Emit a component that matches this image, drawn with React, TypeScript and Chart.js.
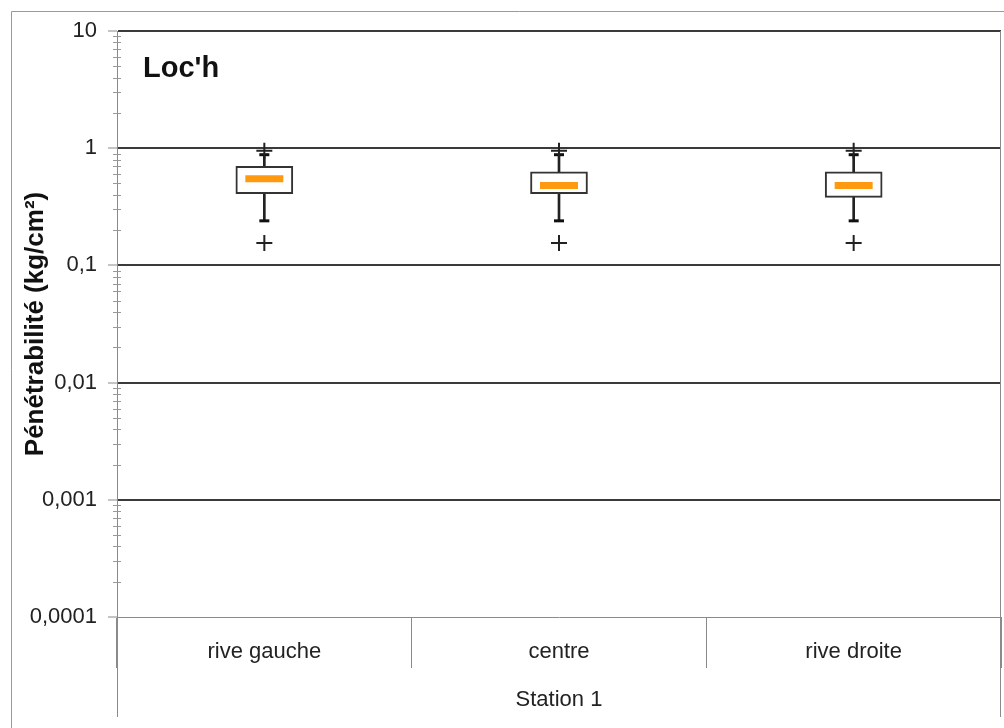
import React, { useEffect, useRef } from 'react';
import { Chart, registerables } from 'chart.js';

Chart.register(...registerables);

const categories = ['rive gauche', 'centre', 'rive droite'];
const q1 = [0.41, 0.41, 0.38];
const q3 = [0.7, 0.63, 0.63];
const medians = [0.55, 0.48, 0.48];
const whiskerLow = [0.24, 0.24, 0.24];
const whiskerHigh = [0.88, 0.88, 0.88];
const outlierHigh = [0.95, 0.95, 0.95];
const outlierLow = [0.155, 0.155, 0.155];
const yTickValues = [10, 1, 0.1, 0.01, 0.001, 0.0001];
const yTickLabels = ['10', '1', '0,1', '0,01', '0,001', '0,0001'];
const chartTitle = "Loc'h";
const yTitle = 'Pénétrabilité (kg/cm²)';
const xTitle = 'Station 1';

const FONT = "'Liberation Sans', Arial, sans-serif";

const majorIndex = (v: number) =>
  yTickValues.findIndex((t) => Math.abs(Math.log10(v) - Math.log10(t)) < 1e-6);

const decor = {
  id: 'decor',
  afterDraw(chart: any) {
    const { ctx, chartArea: a, scales } = chart;
    const y = scales.y;
    ctx.save();
    // outer frame
    ctx.strokeStyle = '#9a9a9a';
    ctx.lineWidth = 1;
    ctx.beginPath();
    ctx.moveTo(11.5, chart.height);
    ctx.lineTo(11.5, 11.5);
    ctx.lineTo(chart.width, 11.5);
    ctx.stroke();
    // right border & long group separators
    ctx.strokeStyle = '#8a8a8a';
    ctx.beginPath();
    ctx.moveTo(Math.round(a.right) - 0.5, a.top);
    ctx.lineTo(Math.round(a.right) - 0.5, 717);
    ctx.moveTo(Math.round(a.left) + 0.5, a.bottom);
    ctx.lineTo(Math.round(a.left) + 0.5, 717);
    ctx.stroke();
    // minor ticks
    ctx.strokeStyle = '#999';
    ctx.beginPath();
    for (let e = -4; e < 1; e++) {
      for (let k = 2; k <= 9; k++) {
        const v = k * Math.pow(10, e);
        const py = Math.round(y.getPixelForValue(v)) + 0.5;
        ctx.moveTo(a.left - 4, py);
        ctx.lineTo(a.left + 4, py);
      }
    }
    ctx.stroke();
    // chart title inside plot
    ctx.font = `bold 29px ${FONT}`;
    ctx.fillStyle = '#111';
    ctx.textBaseline = 'alphabetic';
    ctx.textAlign = 'left';
    ctx.fillText(chartTitle, a.left + 26, a.top + 46);
    ctx.restore();
  },
};

export default function App() {
  const ref = useRef<HTMLCanvasElement | null>(null);

  useEffect(() => {
    if (!ref.current) return;
    const chart = new Chart(ref.current, {
      type: 'bar',
      data: {
        labels: categories,
        datasets: [
          {
            type: 'bar',
            data: whiskerLow.map((v, i) => [v, whiskerHigh[i]]),
            backgroundColor: '#222',
            borderWidth: 0,
            barThickness: 2,
            grouped: false,
            order: 6,
          } as any,
          {
            type: 'bar',
            data: q1.map((v, i) => [v, q3[i]]),
            backgroundColor: '#ffffff',
            borderColor: '#333',
            borderWidth: 2,
            borderSkipped: false,
            barThickness: 57,
            grouped: false,
            order: 5,
          } as any,
          {
            type: 'line',
            data: whiskerLow,
            showLine: false,
            pointStyle: 'line',
            pointRadius: 5,
            pointBorderWidth: 3,
            pointBorderColor: '#111',
            order: 4,
          } as any,
          {
            type: 'line',
            data: whiskerHigh,
            showLine: false,
            pointStyle: 'line',
            pointRadius: 5,
            pointBorderWidth: 3,
            pointBorderColor: '#111',
            order: 3,
          } as any,
          {
            type: 'line',
            data: outlierHigh,
            showLine: false,
            pointStyle: 'cross',
            pointRadius: 8,
            pointBorderWidth: 2,
            pointBorderColor: '#222',
            order: 2,
          } as any,
          {
            type: 'line',
            data: outlierLow,
            showLine: false,
            pointStyle: 'cross',
            pointRadius: 8,
            pointBorderWidth: 2,
            pointBorderColor: '#222',
            order: 2,
          } as any,
          {
            type: 'line',
            data: medians,
            showLine: false,
            pointStyle: 'line',
            pointRadius: 19,
            pointBorderWidth: 7,
            pointBorderColor: '#ff9a10',
            order: 1,
          } as any,
        ],
      },
      options: {
        responsive: false,
        animation: false,
        events: [],
        layout: { padding: { top: 31, right: 3, left: 0, bottom: 0 } },
        plugins: {
          legend: { display: false },
          tooltip: { enabled: false },
        },
        scales: {
          x: {
            type: 'category',
            offset: true,
            afterFit: (s: any) => {
              s.height = 111;
              s.paddingLeft = 0;
              s.paddingRight = 0;
            },
            grid: {
              offset: true,
              drawOnChartArea: false,
              tickLength: 51,
              color: '#8a8a8a',
              lineWidth: 1,
            },
            border: { display: true, color: '#8a8a8a', width: 1 },
            ticks: {
              padding: -29,
              color: '#222',
              font: { family: FONT, size: 22 },
            },
            title: {
              display: true,
              text: xTitle,
              color: '#222',
              font: { family: FONT, size: 22 },
              padding: { top: 0, bottom: 15 },
            },
          },
          y: {
            type: 'logarithmic',
            min: 0.0001,
            max: 10,
            afterFit: (s: any) => {
              s.width = 117;
            },
            grid: {
              tickLength: 9,
              tickWidth: 1,
              color: (c: any) => {
                const v = c.tick ? c.tick.value : 0;
                const i = majorIndex(v);
                return i >= 0 && i < yTickValues.length - 1 ? '#3a3a3a' : 'rgba(0,0,0,0)';
              },
              lineWidth: (c: any) => {
                const v = c.tick ? c.tick.value : 0;
                return majorIndex(v) >= 0 ? 2 : 1;
              },
              tickColor: (c: any) => {
                const v = c.tick ? c.tick.value : 0;
                return majorIndex(v) >= 0 ? '#8a8a8a' : 'rgba(0,0,0,0)';
              },
            },
            border: { display: true, color: '#8a8a8a', width: 1 },
            ticks: {
              autoSkip: false,
              padding: 11,
              color: '#222',
              font: { family: FONT, size: 22 },
              callback: (v: any) => {
                const i = majorIndex(Number(v));
                return i >= 0 ? yTickLabels[i] : '';
              },
            },
            title: {
              display: true,
              text: yTitle,
              color: '#111',
              font: { family: FONT, size: 26, weight: 'bold' },
              padding: { top: 20, bottom: 0 },
            },
          },
        },
      } as any,
      plugins: [decor],
    });
    return () => chart.destroy();
  }, []);

  return (
    <div
      style={{
        position: 'absolute',
        left: 0,
        top: 0,
        width: 1004,
        height: 728,
        overflow: 'hidden',
        background: '#fff',
      }}
    >
      <canvas ref={ref} width={1027} height={728} style={{ display: 'block' }} />
    </div>
  );
}
